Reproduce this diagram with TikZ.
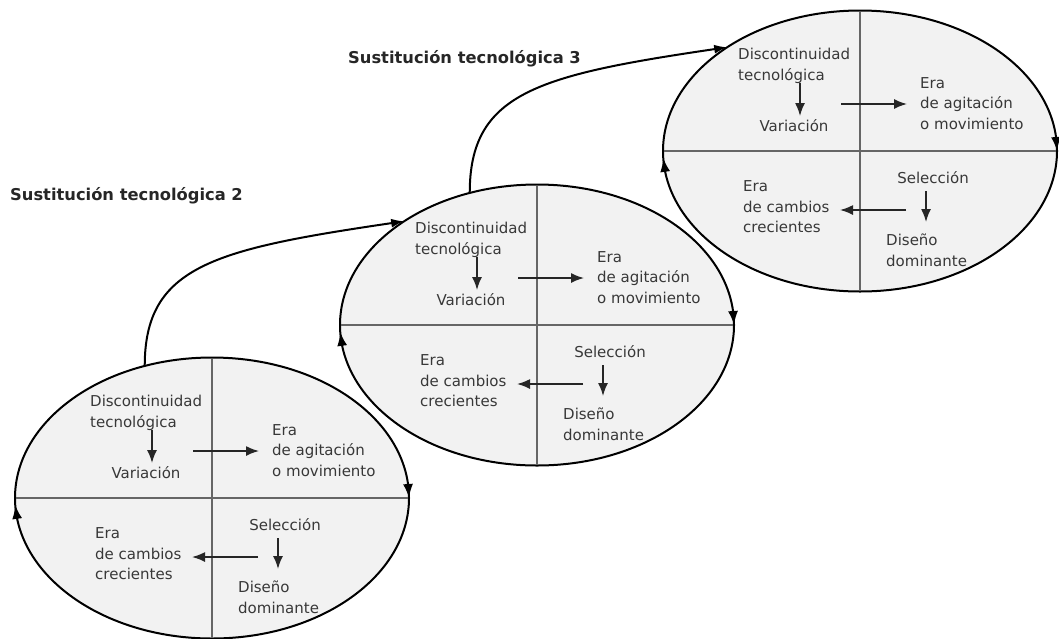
\documentclass[tikz,border=0pt]{standalone}
\usepackage{fontspec}
\setmainfont{DejaVu Sans}
\usetikzlibrary{arrows.meta,shapes.geometric}
\begin{document}
\begin{tikzpicture}[x=1pt,y=-1pt,
  phase/.style={ellipse, draw=black, line width=2pt, fill=black!5,
    minimum width=394pt, minimum height=281pt, inner sep=0pt, outer sep=0pt},
  divider/.style={draw=black!60, line width=1.3pt, shorten <=1pt, shorten >=1pt},
  txt/.style={inner sep=0pt, text=black!78, font=\fontsize{15}{20.5}\selectfont, align=left},
  flow/.style={line width=1.6pt, draw=black!85, -{Latex[length=13pt,width=10pt]}},
  turn/.style={line width=2pt, -{Latex[length=14pt,width=10pt]}},
  jump/.style={line width=2pt, -{Latex[length=13pt,width=9pt]}},
  heading/.style={inner sep=0pt, font=\bfseries\fontsize{16.3}{19}\selectfont,
    text=black!85, anchor=west}]
\useasboundingbox (0,0) rectangle (1059,638);

% one cycle of technological change per ellipse
\foreach \i/\cx/\cy in {1/212/498, 2/537/325, 3/860/151}{
  \node[phase] (e\i) at (\cx,\cy) {};
  \draw[divider] (e\i.west) -- (e\i.east);
  \draw[divider] (e\i.north) -- (e\i.south);
  % direction of travel round the cycle
  \draw[turn] (e\i.4) -- (e\i.0.9);
  \draw[turn] (e\i.186) -- (e\i.182.3);
  \begin{scope}[shift={(e\i.center)}]
    \node[txt, anchor=north west] (disc\i) at (-122,-103) {Discontinuidad\\tecnológica};
    \node[txt, anchor=base] (var\i) at (-66,-19.5) {Variación};
    \node[txt, anchor=north west] (agit\i) at (60,-74) {Era\\de agitación\\o movimiento};
    \node[txt, anchor=base] (sel\i) at (73,32.5) {Selección};
    \node[txt, anchor=north west] (dis\i) at (26,83) {Diseño\\dominante};
    \node[txt, anchor=north west] (camb\i) at (-117,29.5) {Era\\de cambios\\crecientes};
    \coordinate (va\i) at (-60,-68); \coordinate (vb\i) at (-60,-35);
    \coordinate (ra\i) at (-19,-47); \coordinate (rb\i) at (47,-47);
    \coordinate (sa\i) at (66,40);   \coordinate (sb\i) at (66,71);
    \coordinate (la\i) at (46,59);   \coordinate (lb\i) at (-20,59);
    \draw[flow] (va\i) -- (vb\i);
    \draw[flow] (ra\i) -- (rb\i);
    \draw[flow] (sa\i) -- (sb\i);
    \draw[flow] (la\i) -- (lb\i);
  \end{scope}
}

% substitutions leading to the next cycle
\draw[jump] (e1.117.8) .. controls +(0,-100) and +(-190,28) .. (e2.142.8);
\draw[jump] (e2.117.8) .. controls +(0,-100) and +(-190,28) .. (e3.142.8);

\node[heading] (s2) at (10,196) {Sustitución tecnológica 2};
\node[heading] (s3) at (348,59) {Sustitución tecnológica 3};
\end{tikzpicture}
\end{document}
